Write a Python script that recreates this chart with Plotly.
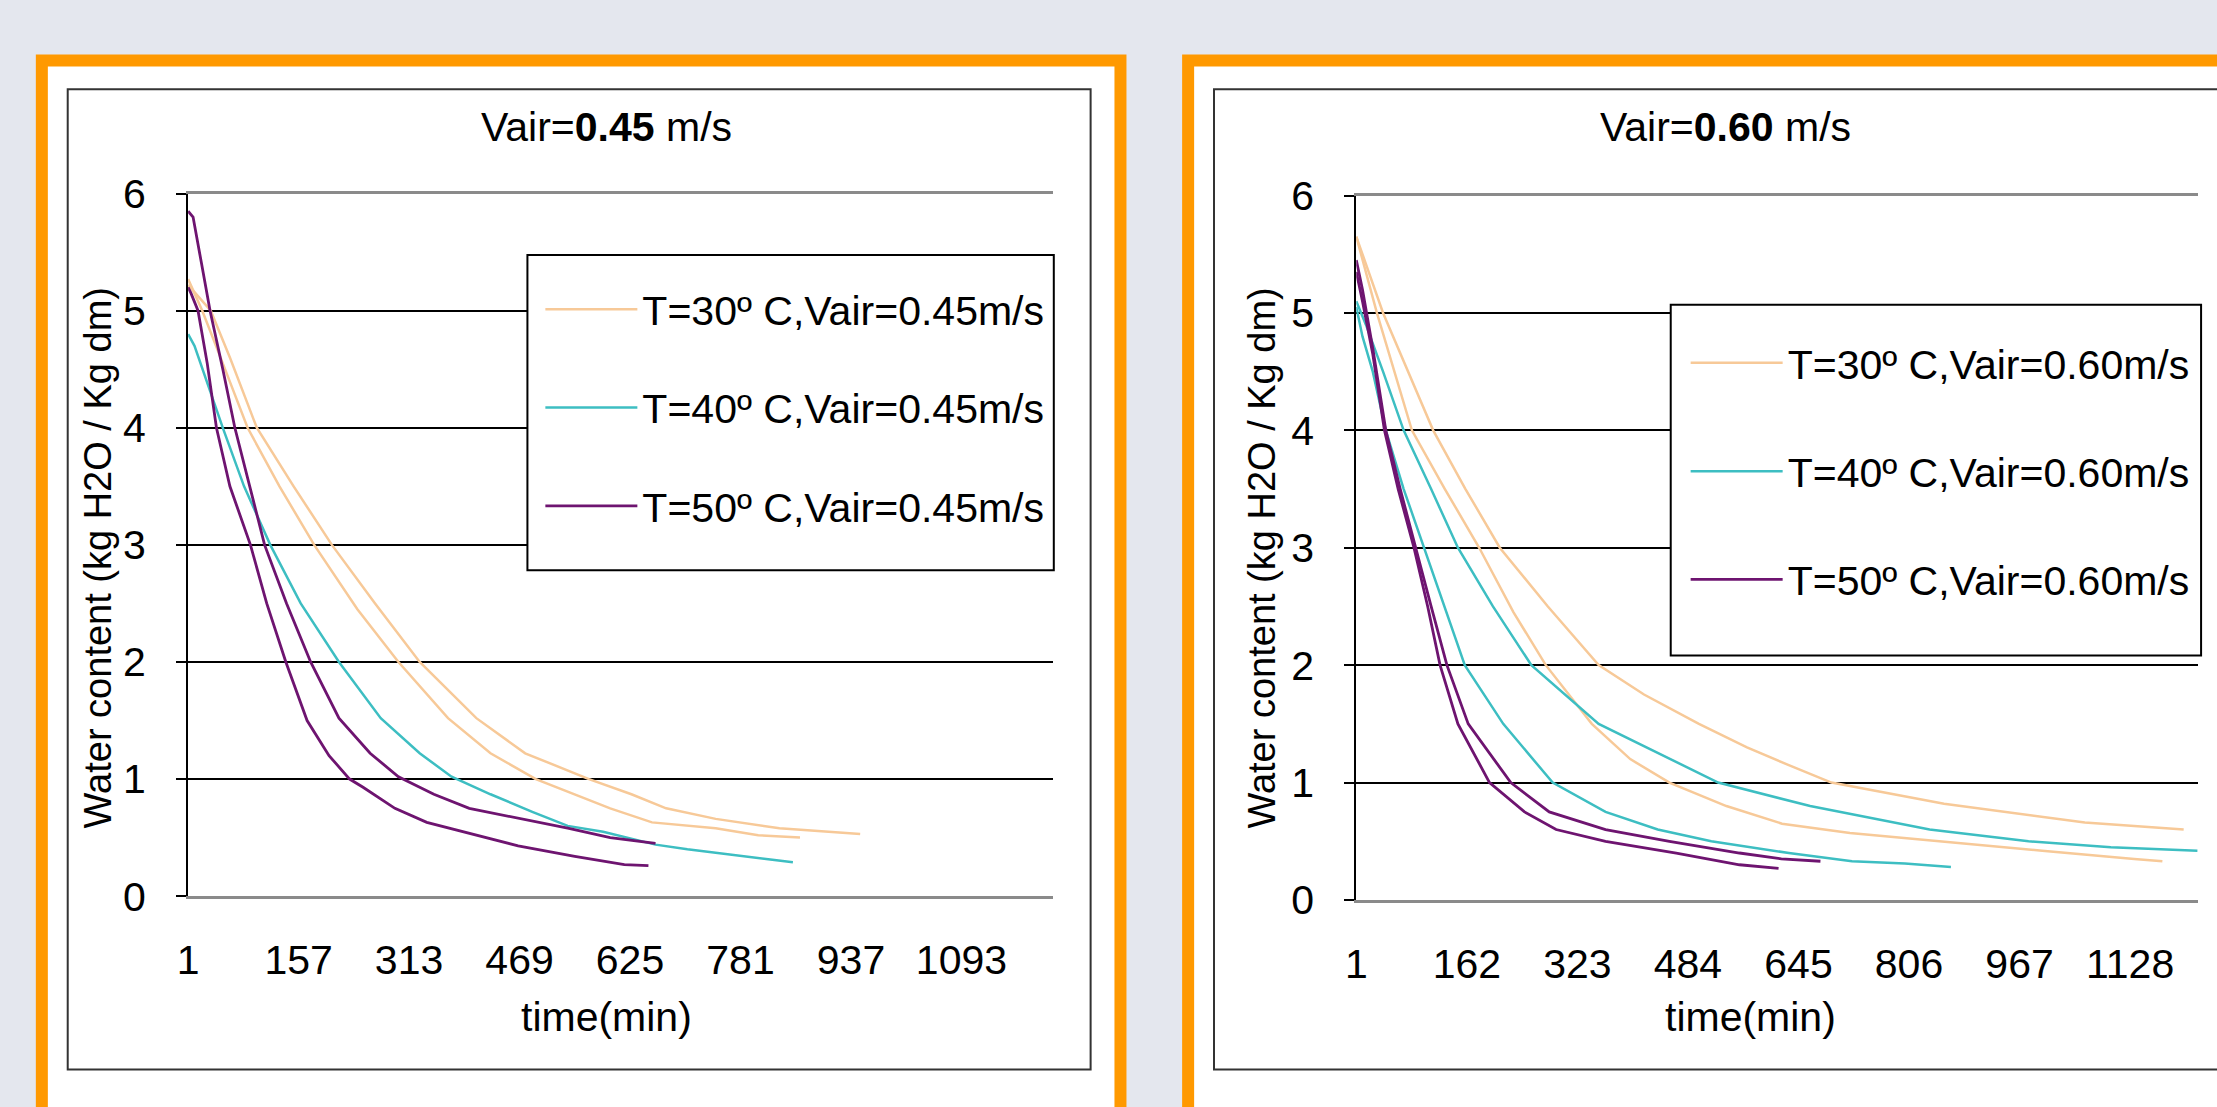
import plotly.graph_objects as go

W, H = 2217, 1107

# ---------------- data ----------------
# Left panel: Vair = 0.45 m/s
L_T30a_t = [1, 21, 50, 85, 130, 179, 240, 298, 368, 428, 492, 547, 597, 656, 746, 806, 865]
L_T30a_v = [5.27, 5.0, 4.55, 4.0, 3.5, 3.0, 2.45, 2.0, 1.52, 1.22, 1.0, 0.87, 0.75, 0.63, 0.58, 0.52, 0.5]
L_T30b_t = [1, 33, 60, 98, 150, 204, 265, 328, 408, 477, 567, 627, 676, 746, 836, 950]
L_T30b_v = [5.22, 5.0, 4.6, 4.0, 3.5, 3.0, 2.5, 2.0, 1.52, 1.22, 1.0, 0.87, 0.75, 0.66, 0.58, 0.53]
L_T40_t = [1, 10, 30, 50, 80, 117, 160, 214, 273, 328, 373, 428, 487, 537, 587, 661, 706, 756, 826, 855]
L_T40_v = [4.8, 4.7, 4.35, 4.0, 3.5, 3.0, 2.5, 2.0, 1.52, 1.22, 1.02, 0.87, 0.72, 0.6, 0.55, 0.44, 0.4, 0.36, 0.31, 0.29]
L_T50a_t = [1, 8, 20, 32, 50, 67, 88, 109, 140, 174, 214, 258, 298, 348, 398, 448, 537, 597, 661]
L_T50a_v = [5.85, 5.8, 5.4, 5.0, 4.5, 4.0, 3.5, 3.0, 2.5, 2.0, 1.52, 1.22, 1.02, 0.87, 0.75, 0.69, 0.58, 0.5, 0.45]
L_T50b_t = [1, 5, 15, 28, 41, 60, 89, 112, 139, 169, 200, 229, 248, 293, 338, 388, 467, 547, 617, 651]
L_T50b_v = [5.2, 5.15, 5.0, 4.55, 4.0, 3.5, 3.0, 2.5, 2.0, 1.5, 1.2, 1.0, 0.93, 0.75, 0.63, 0.55, 0.43, 0.34, 0.27, 0.26]

# Right panel: Vair = 0.60 m/s
R_T30a_t = [1, 31, 82, 130, 180, 230, 277, 344, 400, 457, 540, 621, 720, 846, 1000, 1134, 1175]
R_T30a_v = [5.65, 5.0, 4.0, 3.5, 3.0, 2.45, 2.0, 1.5, 1.2, 1.0, 0.8, 0.65, 0.57, 0.5, 0.42, 0.35, 0.33]
R_T30b_t = [1, 40, 113, 160, 210, 280, 354, 420, 500, 570, 630, 693, 857, 1062, 1206]
R_T30b_v = [5.65, 5.0, 4.0, 3.5, 3.0, 2.5, 2.0, 1.75, 1.5, 1.3, 1.15, 1.0, 0.82, 0.66, 0.6]
R_T40a_t = [1, 10, 25, 44, 70, 100, 130, 159, 215, 287, 364, 440, 518, 631, 723, 800, 867]
R_T40a_v = [5.05, 4.8, 4.5, 4.0, 3.5, 3.0, 2.5, 2.0, 1.5, 1.0, 0.75, 0.6, 0.5, 0.4, 0.33, 0.31, 0.28]
R_T40b_t = [1, 15, 40, 70, 110, 149, 200, 256, 354, 457, 528, 662, 836, 980, 1100, 1226]
R_T40b_v = [5.1, 4.9, 4.5, 4.0, 3.5, 3.0, 2.5, 2.0, 1.5, 1.2, 1.0, 0.8, 0.6, 0.5, 0.45, 0.42]
R_T50a_t = [1, 10, 25, 44, 65, 87, 110, 133, 164, 226, 282, 364, 457, 559, 620, 677]
R_T50a_v = [5.45, 5.2, 4.7, 4.0, 3.5, 3.0, 2.5, 2.0, 1.5, 1.0, 0.75, 0.6, 0.5, 0.4, 0.35, 0.33]
R_T50b_t = [1, 10, 25, 42, 62, 85, 105, 123, 149, 195, 246, 292, 364, 467, 559, 616]
R_T50b_v = [5.35, 5.1, 4.65, 4.0, 3.5, 3.0, 2.5, 2.0, 1.5, 1.0, 0.75, 0.6, 0.5, 0.4, 0.3, 0.27]

L_xticks = [1, 157, 313, 469, 625, 781, 937, 1093]
R_xticks = [1, 162, 323, 484, 645, 806, 967, 1128]
y_ticks = [0, 1, 2, 3, 4, 5, 6]

L_names = ["T=30º C,Vair=0.45m/s", "T=40º C,Vair=0.45m/s", "T=50º C,Vair=0.45m/s"]
R_names = ["T=30º C,Vair=0.60m/s", "T=40º C,Vair=0.60m/s", "T=50º C,Vair=0.60m/s"]
L_title = "Vair=<b>0.45</b> m/s"
R_title = "Vair=<b>0.60</b> m/s"
y_title = "Water content (kg H2O / Kg dm)"
x_title = "time(min)"

C30, C40, C50 = "#F7C998", "#3DBEC2", "#6E1470"
FONT = "Liberation Sans, Arial, sans-serif"
FS = 41


def X(p):
    return p / W


def Y(p):
    return 1 - p / H


fig = go.Figure()


def add(t, v, color, name, show, xa, ya, leg, width):
    fig.add_trace(go.Scatter(
        x=t, y=v, mode="lines", name=name, legendgroup=name, showlegend=show,
        line=dict(color=color, width=width), xaxis=xa, yaxis=ya, legend=leg))


add(L_T30a_t, L_T30a_v, C30, L_names[0], True, "x", "y", "legend", 2.5)
add(L_T30b_t, L_T30b_v, C30, L_names[0], False, "x", "y", "legend", 2.5)
add(L_T40_t, L_T40_v, C40, L_names[1], True, "x", "y", "legend", 2.5)
add(L_T50a_t, L_T50a_v, C50, L_names[2], True, "x", "y", "legend", 2.8)
add(L_T50b_t, L_T50b_v, C50, L_names[2], False, "x", "y", "legend", 2.8)

add(R_T30a_t, R_T30a_v, C30, R_names[0], True, "x2", "y2", "legend2", 2.5)
add(R_T30b_t, R_T30b_v, C30, R_names[0], False, "x2", "y2", "legend2", 2.5)
add(R_T40a_t, R_T40a_v, C40, R_names[1], True, "x2", "y2", "legend2", 2.5)
add(R_T40b_t, R_T40b_v, C40, R_names[1], False, "x2", "y2", "legend2", 2.5)
add(R_T50a_t, R_T50a_v, C50, R_names[2], True, "x2", "y2", "legend2", 2.8)
add(R_T50b_t, R_T50b_v, C50, R_names[2], False, "x2", "y2", "legend2", 2.8)

tickfont = dict(family=FONT, size=FS, color="black")

xcommon = dict(showgrid=False, zeroline=False, showline=True, mirror=True,
               linecolor="#8a8a8a", linewidth=3, ticks="", tickfont=tickfont,
               ticklabelstandoff=26)
ycommon = dict(range=[0, 6], tickvals=y_ticks, showgrid=True, gridcolor="black",
               gridwidth=1.5, zeroline=False, showline=True, linecolor="black",
               linewidth=2, ticks="outside", ticklen=10, tickcolor="black",
               tickwidth=2, tickfont=tickfont, ticklabelstandoff=22)

legcommon = dict(bgcolor="rgba(0,0,0,0)", borderwidth=0, font=dict(family=FONT, size=FS, color="black"),
                 xanchor="left", yanchor="top", itemwidth=92, traceorder="grouped")

fig.update_layout(
    width=W, height=H, margin=dict(l=0, r=0, t=0, b=0),
    paper_bgcolor="#E4E7EE", plot_bgcolor="rgba(0,0,0,0)",
    xaxis=dict(domain=[X(178), X(1047)], range=[1, 1222], tickvals=L_xticks, anchor="y", **xcommon),
    yaxis=dict(domain=[Y(911), Y(178)], anchor="x", **ycommon),
    xaxis2=dict(domain=[X(1352), X(2198)], range=[1, 1227], tickvals=R_xticks, anchor="y2", **xcommon),
    yaxis2=dict(domain=[Y(915), Y(180)], anchor="x2", **ycommon),
    legend=dict(x=X(532), y=Y(264), tracegroupgap=42, **legcommon),
    legend2=dict(x=X(1683), y=Y(320), tracegroupgap=52, **legcommon),
    showlegend=True,
)

shapes = []
# orange frames with white interior
shapes.append(dict(type="rect", xref="paper", yref="paper", x0=X(31), x1=X(1115), y0=Y(39), y1=Y(1140),
                   line=dict(color="#FF9900", width=12), fillcolor="white", layer="below"))
shapes.append(dict(type="rect", xref="paper", yref="paper", x0=X(1183), x1=X(2260), y0=Y(39), y1=Y(1140),
                   line=dict(color="#FF9900", width=12), fillcolor="white", layer="below"))
# chart-area borders
shapes.append(dict(type="rect", xref="paper", yref="paper", x0=X(57), x1=X(1085), y0=Y(69), y1=Y(1092),
                   line=dict(color="#333333", width=2), layer="below"))
shapes.append(dict(type="rect", xref="paper", yref="paper", x0=X(1209), x1=X(2260), y0=Y(69), y1=Y(1092),
                   line=dict(color="#333333", width=2), layer="below"))
# legend boxes
shapes.append(dict(type="rect", xref="paper", yref="paper", x0=X(519), x1=X(1048), y0=Y(242), y1=Y(571),
                   line=dict(color="black", width=2), fillcolor="white", layer="above"))
shapes.append(dict(type="rect", xref="paper", yref="paper", x0=X(1668), x1=X(2201), y0=Y(294), y1=Y(660),
                   line=dict(color="black", width=2), fillcolor="white", layer="above"))
fig.update_layout(shapes=shapes)

ann = [
    dict(text=L_title, x=X(598), y=Y(109), size=FS),
    dict(text=R_title, x=X(1723), y=Y(109), size=FS),
    dict(text=x_title, x=X(598), y=Y(1037), size=FS),
    dict(text=x_title, x=X(1748), y=Y(1037), size=FS),
    dict(text=y_title, x=X(87), y=Y(558), textangle=-90, size=38),
    dict(text=y_title, x=X(1257), y=Y(558), textangle=-90, size=38),
]
for a in ann:
    s = a.pop("size")
    a.update(xref="paper", yref="paper", showarrow=False, xanchor="center", yanchor="middle",
             font=dict(family=FONT, size=s, color="black"))
fig.update_layout(annotations=ann)

fig.write_html("out.html", config={"displayModeBar": False},
               post_script="document.body.style.margin='0';document.body.style.overflow='hidden';")
